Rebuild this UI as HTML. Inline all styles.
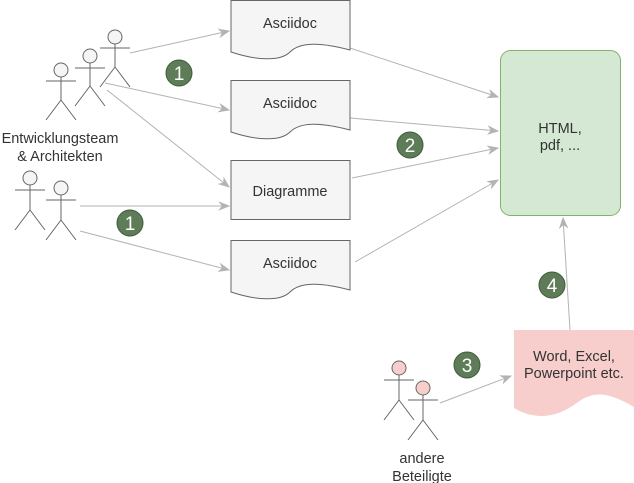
<!DOCTYPE html>
<html><head><style>body{margin:0;background:#fff}svg{display:block}text{font-family:"Liberation Sans",sans-serif}</style></head><body>
<svg width="634" height="483" viewBox="0 0 634 483" xmlns="http://www.w3.org/2000/svg">
<defs><marker id="a" viewBox="0 0 10 10" refX="9" refY="5" markerWidth="12" markerHeight="12" orient="auto" markerUnits="userSpaceOnUse"><path d="M0,1 L10,5 L0,9 L3,5 Z" fill="#b3b3b3"/></marker></defs>
<g stroke="#b3b3b3" stroke-width="1" fill="none" marker-end="url(#a)">
<line x1="130" y1="53" x2="229" y2="31"/>
<line x1="105" y1="83" x2="229" y2="110"/>
<line x1="107" y1="90" x2="229" y2="187"/>
<line x1="80" y1="206" x2="229" y2="206"/>
<line x1="80" y1="231" x2="229" y2="270"/>
<line x1="350" y1="48" x2="498" y2="97"/>
<line x1="350" y1="118" x2="498" y2="131"/>
<line x1="352" y1="178" x2="498" y2="148"/>
<line x1="355" y1="262" x2="498" y2="180"/>
<line x1="570" y1="330" x2="563" y2="218"/>
<line x1="440" y1="403" x2="511" y2="376"/>
</g>
<g fill="#f5f5f5" stroke="#666" stroke-width="1">
<path d="M231,0.5 H350 V50 C320,42 300,42 290,52 C280,62 255,60 231,52 Z"/>
<path d="M231,80.5 H350 V130 C320,122 300,122 290,132 C280,142 255,140 231,132 Z"/>
<rect x="231" y="160.5" width="119" height="59"/>
<path d="M231,240.5 H350 V290 C320,282 300,282 290,292 C280,302 255,300 231,292 Z"/>
</g>
<rect x="500.5" y="50.5" width="120" height="165" rx="10" fill="#d5e8d4" stroke="#82b366"/>
<path d="M514,330 H634 V407 C610,393 595,390 578,402 C560,416 538,422 514,408 Z" fill="#f8cecc"/>
<g font-size="14.5" fill="#333" text-anchor="middle">
<text x="290" y="28">Asciidoc</text>
<text x="290" y="108">Asciidoc</text>
<text x="290" y="196">Diagramme</text>
<text x="290" y="268">Asciidoc</text>
<text x="560" y="133">HTML,</text>
<text x="560" y="150">pdf, ...</text>
<text x="574" y="361">Word, Excel,</text>
<text x="574" y="378">Powerpoint etc.</text>
<text x="60" y="143">Entwicklungsteam</text>
<text x="60" y="161">&amp; Architekten</text>
<text x="422" y="463">andere</text>
<text x="422" y="481">Beteiligte</text>
</g>
<g stroke="#666" stroke-width="1" fill="#f5f5f5">
<g transform="translate(61,70)"><circle r="7"/><path d="M0,7 V30 M-15,11 H15 M0,30 L-15,50 M0,30 L15,50" fill="none"/></g>
<g transform="translate(90,56)"><circle r="7"/><path d="M0,7 V30 M-15,12 H15 M0,30 L-15,50 M0,30 L15,50" fill="none"/></g>
<g transform="translate(115,37)"><circle r="7"/><path d="M0,7 V30 M-15,11 H15 M0,30 L-15,50 M0,30 L15,50" fill="none"/></g>
<g transform="translate(30,178)"><circle r="7"/><path d="M0,7 V32 M-15,12 H15 M0,32 L-15,52 M0,32 L15,52" fill="none"/></g>
<g transform="translate(61,188)"><circle r="7"/><path d="M0,7 V32 M-15,12 H15 M0,32 L-15,52 M0,32 L15,52" fill="none"/></g>
<g transform="translate(399,368)" fill="#f8cecc"><circle r="7"/><path d="M0,7 V32 M-15,12 H15 M0,32 L-15,52 M0,32 L15,52" fill="none"/></g>
<g transform="translate(423,388)" fill="#f8cecc"><circle r="7"/><path d="M0,7 V32 M-15,12 H15 M0,32 L-15,52 M0,32 L15,52" fill="none"/></g>
</g>
<g fill="#5e7c58" stroke="#3f5a3a">
<circle cx="179" cy="73" r="13"/><circle cx="410" cy="145" r="13"/><circle cx="130" cy="223" r="13"/><circle cx="467" cy="365" r="13"/><circle cx="552" cy="285" r="13"/>
</g>
<g fill="#fff" font-size="19" text-anchor="middle">
<text x="179" y="80">1</text><text x="410" y="152">2</text><text x="130" y="230">1</text><text x="467" y="372">3</text><text x="552" y="292">4</text>
</g>
</svg>
</body></html>
